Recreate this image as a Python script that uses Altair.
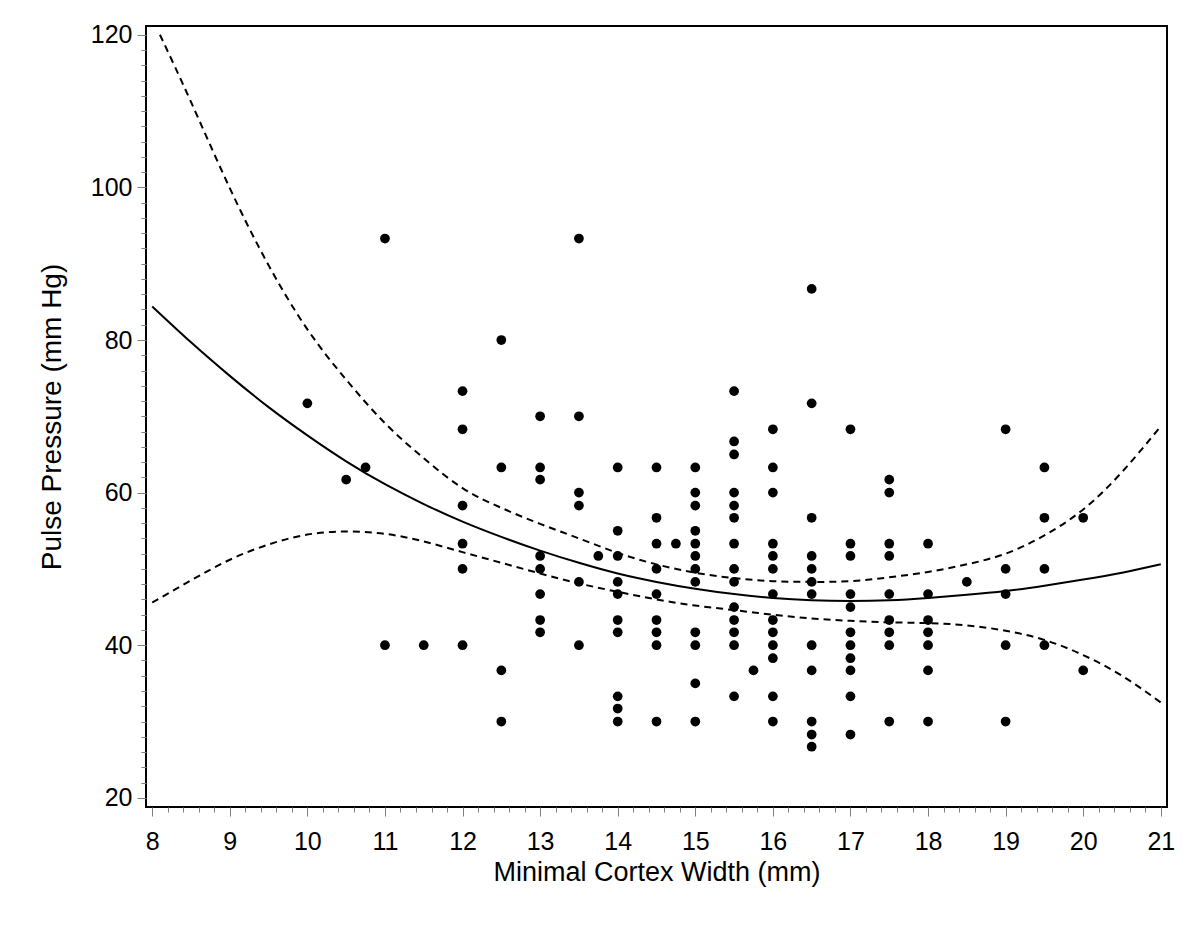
import altair as alt
import pandas as pd

# ---- scatter data (Minimal Cortex Width, Pulse Pressure) ----
columns = {
    10.0: [71.7],
    10.5: [61.7],
    10.75: [63.3],
    11.0: [93.3, 40.0],
    11.5: [40.0],
    12.0: [73.3, 68.3, 58.3, 53.3, 50.0, 40.0],
    12.5: [80.0, 63.3, 36.7, 30.0],
    13.0: [70.0, 63.3, 61.7, 51.7, 50.0, 46.7, 43.3, 41.7],
    13.5: [93.3, 70.0, 60.0, 58.3, 48.3, 40.0],
    13.75: [51.7],
    14.0: [63.3, 55.0, 51.7, 48.3, 46.7, 43.3, 41.7, 33.3, 31.7, 30.0],
    14.5: [63.3, 56.7, 53.3, 50.0, 46.7, 43.3, 41.7, 40.0, 30.0],
    14.75: [53.3],
    15.0: [63.3, 60.0, 58.3, 55.0, 53.3, 51.7, 50.0, 48.3, 41.7, 40.0, 35.0, 30.0],
    15.5: [73.3, 66.7, 65.0, 60.0, 58.3, 56.7, 53.3, 50.0, 48.3, 45.0, 43.3, 41.7, 40.0, 33.3],
    15.75: [36.7],
    16.0: [68.3, 63.3, 60.0, 53.3, 51.7, 50.0, 46.7, 43.3, 41.7, 40.0, 38.3, 33.3, 30.0],
    16.5: [86.7, 71.7, 56.7, 51.7, 50.0, 48.3, 46.7, 40.0, 36.7, 30.0, 28.3, 26.7],
    17.0: [68.3, 53.3, 51.7, 46.7, 45.0, 41.7, 40.0, 38.3, 36.7, 33.3, 28.3],
    17.5: [61.7, 60.0, 53.3, 51.7, 46.7, 43.3, 41.7, 40.0, 30.0],
    18.0: [53.3, 46.7, 43.3, 41.7, 40.0, 36.7, 30.0],
    18.5: [48.3],
    19.0: [68.3, 50.0, 46.7, 40.0, 30.0],
    19.5: [63.3, 56.7, 50.0, 40.0],
    20.0: [56.7, 36.7],
}

# ---- fitted curve and confidence limits ----
fit_x = [8, 8.5, 9, 9.5, 10, 10.5, 11, 11.5, 12, 12.5, 13, 13.5, 14, 14.5,
         15, 15.5, 16, 16.5, 17, 17.5, 18, 18.5, 19, 19.5, 20, 20.5, 21]
fit_y = [84.4, 79.7, 75.3, 71.2, 67.5, 64.1, 61.1, 58.5, 56.2, 54.2, 52.4, 50.8,
         49.4, 48.3, 47.4, 46.7, 46.2, 45.9, 45.8, 45.9, 46.2, 46.6, 47.1, 47.8,
         48.6, 49.5, 50.6]

upper_x = [8.1, 8.5, 9, 9.5, 10, 10.5, 11, 11.5, 12, 12.5, 13, 13.5, 14, 14.5,
           15, 15.5, 16, 16.5, 17, 17.5, 18, 18.5, 19, 19.5, 20, 20.5, 21]
upper_y = [120.0, 111.2, 99.9, 89.8, 81.4, 74.8, 69.1, 64.5, 60.6, 58.0, 55.9,
           54.0, 52.1, 50.6, 49.5, 48.8, 48.4, 48.3, 48.4, 48.9, 49.6, 50.6, 52.0,
           54.4, 57.8, 62.7, 68.7]

lower_x = fit_x
lower_y = [45.6, 48.5, 51.2, 53.2, 54.5, 54.9, 54.6, 53.6, 52.2, 50.8, 49.4, 48.1,
           47.0, 46.0, 45.2, 44.6, 44.0, 43.5, 43.2, 43.0, 42.9, 42.6, 41.9, 40.7,
           38.7, 36.0, 32.5]

# ---- build tables ----
pts = pd.DataFrame(
    [{"x": k, "y": v} for k, vals in columns.items() for v in vals]
)
fit = pd.DataFrame({"x": fit_x, "y": fit_y})
upper = pd.DataFrame({"x": upper_x, "y": upper_y})
lower = pd.DataFrame({"x": lower_x, "y": lower_y})

x_ticks = [round(8 + 0.2 * i, 1) for i in range(66)]
y_ticks = [20 + 2 * i for i in range(51)]

FONT = "Liberation Sans"

x_scale = alt.Scale(domain=[7.92, 21.08], nice=False, zero=False)
y_scale = alt.Scale(domain=[18.8, 121.15], nice=False, zero=False)

x_axis = alt.Axis(
    values=x_ticks,
    tickCount=1000,
    labelExpr="abs(datum.value - round(datum.value)) < 0.01 ? format(datum.value, 'd') : ''",
    tickSize={"condition": {"test": "abs(datum.value - round(datum.value)) < 0.01", "value": 9}, "value": 5},
    title="Minimal Cortex Width (mm)",
    labelOverlap=False, labelFlush=False, labelBound=False,
    labelPadding=13, titlePadding=5, titleFontSize=27,
)
y_axis = alt.Axis(
    values=y_ticks,
    tickCount=1000,
    labelExpr="datum.value % 20 === 0 ? format(datum.value, 'd') : ''",
    tickSize={"condition": {"test": "datum.value % 20 === 0", "value": 9}, "value": 5},
    title="Pulse Pressure (mm Hg)",
    labelOverlap=False, labelFlush=False, labelBound=False,
    labelPadding=5, titlePadding=24,
)

points = alt.Chart(pts).mark_circle(size=95, color="black", opacity=1).encode(
    x=alt.X("x:Q", scale=x_scale, axis=x_axis),
    y=alt.Y("y:Q", scale=y_scale, axis=y_axis),
)

fit_line = alt.Chart(fit).mark_line(color="black", strokeWidth=2, interpolate="natural").encode(
    x=alt.X("x:Q", scale=x_scale), y=alt.Y("y:Q", scale=y_scale)
)
up_line = alt.Chart(upper).mark_line(color="black", strokeWidth=2, strokeDash=[7, 5],
                                     interpolate="natural", clip=True).encode(
    x=alt.X("x:Q", scale=x_scale), y=alt.Y("y:Q", scale=y_scale)
)
lo_line = alt.Chart(lower).mark_line(color="black", strokeWidth=2, strokeDash=[7, 5],
                                     interpolate="natural").encode(
    x=alt.X("x:Q", scale=x_scale), y=alt.Y("y:Q", scale=y_scale)
)

chart = alt.layer(points, fit_line, up_line, lo_line).properties(
    width=1021,
    height=781,
    autosize=alt.AutoSizeParams(type="none"),
    padding={"left": 138, "top": 18, "right": 20, "bottom": 100},
    background="white",
).configure_view(
    stroke="black", strokeWidth=2
).configure_axis(
    grid=False,
    domain=False,
    tickColor="#808080",
    tickWidth=1,
    labelFont=FONT,
    labelFontSize=25,
    labelColor="black",
    titleFont=FONT,
    titleFontSize=28,
    titleFontWeight="normal",
    titleColor="black",
)

chart.save("out.html", embed_options={"renderer": "svg", "actions": False})
